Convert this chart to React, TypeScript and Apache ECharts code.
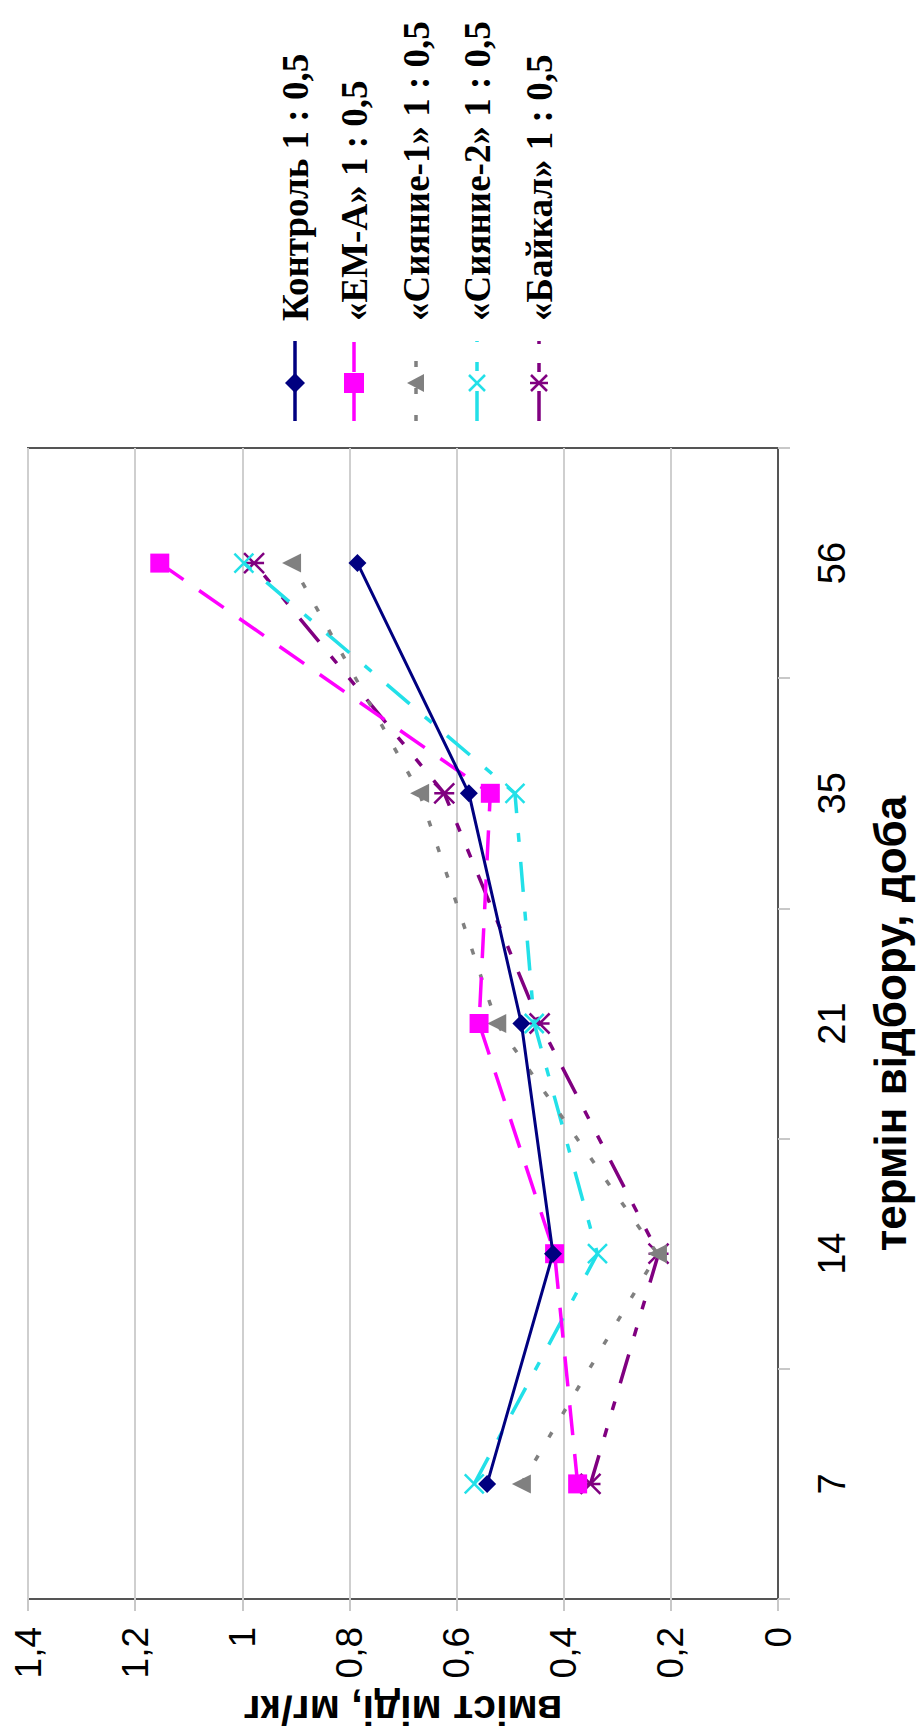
import React, { useEffect, useRef } from "react";
import * as echarts from "echarts";

// Categories (sampling day) and value-axis settings
const categories = ["7", "14", "21", "35", "56"];
const valueMin = 0;
const valueMax = 1.4;
const valueStep = 0.2;

// Series names (legend)
const seriesNames = [
  "Контроль 1 : 0,5",
  "«ЕМ-А» 1 : 0,5",
  "«Сияние-1» 1 : 0,5",
  "«Сияние-2» 1 : 0,5",
  "«Байкал» 1 : 0,5",
];

// Values, mg/kg, in category order 7, 14, 21, 35, 56
const kontrol = [0.543, 0.42, 0.479, 0.577, 0.785];
const emA = [0.374, 0.417, 0.558, 0.537, 1.154];
const siyanie1 = [0.479, 0.225, 0.525, 0.669, 0.908];
const siyanie2 = [0.567, 0.337, 0.455, 0.491, 0.997];
const baikal = [0.35, 0.223, 0.445, 0.623, 0.978];

const allData = [kontrol, emA, siyanie1, siyanie2, baikal];

const X_PATH = "path://M0,0L10,10M10,0L0,10";
const STAR_PATH = "path://M0,0L10,10M10,0L0,10M0,5L10,5";

const looks = [
  { color: "#000080", dash: null as any, symbol: "diamond", size: 18, rotate: 0, stroke: false },
  { color: "#ff00ff", dash: [30, 19], symbol: "rect", size: 19, rotate: 0, stroke: false },
  { color: "#808080", dash: [6, 21], symbol: "triangle", size: 19, rotate: 90, stroke: false },
  { color: "#22e0e8", dash: [30, 20, 9, 20], symbol: X_PATH, size: 19, rotate: 0, stroke: true },
  { color: "#800080", dash: [30, 19, 9, 19, 9, 19], symbol: STAR_PATH, size: 20, rotate: 0, stroke: true },
];

const legendX = [295, 354, 416, 477, 539];
const legendY = 383;

function legendMarker(i: number) {
  const c = looks[i].color;
  switch (i) {
    case 0:
      return [{ type: "polygon", shape: { points: [[0, -10], [10, 0], [0, 10], [-10, 0]] }, style: { fill: c } }];
    case 1:
      return [{ type: "rect", shape: { x: -10, y: -10, width: 20, height: 20 }, style: { fill: c } }];
    case 2:
      return [{ type: "polygon", shape: { points: [[0, -9], [9, 8], [-9, 8]] }, style: { fill: c } }];
    case 3:
      return [
        { type: "line", shape: { x1: -8, y1: -8, x2: 8, y2: 8 }, style: { stroke: c, lineWidth: 2.5 } },
        { type: "line", shape: { x1: 8, y1: -8, x2: -8, y2: 8 }, style: { stroke: c, lineWidth: 2.5 } },
      ];
    default:
      return [
        { type: "line", shape: { x1: -8, y1: -8, x2: 8, y2: 8 }, style: { stroke: c, lineWidth: 2.5 } },
        { type: "line", shape: { x1: 8, y1: -8, x2: -8, y2: 8 }, style: { stroke: c, lineWidth: 2.5 } },
        { type: "line", shape: { x1: 0, y1: -9, x2: 0, y2: 9 }, style: { stroke: c, lineWidth: 2.5 } },
      ];
  }
}

export default function App() {
  const ref = useRef<HTMLDivElement>(null);

  useEffect(() => {
    document.body.style.margin = "0";
    const chart = echarts.init(ref.current as HTMLDivElement, undefined, { renderer: "svg" });

    const series = allData.map((d, i) => {
      const L = looks[i];
      return {
        name: seriesNames[i],
        type: "line",
        data: d,
        symbol: L.symbol,
        symbolSize: L.size,
        symbolRotate: L.rotate,
        showSymbol: true,
        lineStyle: { color: L.color, width: i === 0 ? 3 : 3.5, type: L.dash ? L.dash : "solid", cap: "butt" },
        itemStyle: L.stroke
          ? { color: L.color, borderColor: L.color, borderWidth: 2.5 }
          : { color: L.color, borderWidth: 0 },
        z: 10 - i,
      };
    });

    const graphic = seriesNames.map((name, i) => ({
      type: "group",
      x: legendX[i],
      y: legendY,
      rotation: Math.PI / 2,
      children: [
        {
          type: "line",
          shape: { x1: -38, y1: 0, x2: 42, y2: 0 },
          style: { stroke: looks[i].color, lineWidth: 3.5, lineDash: looks[i].dash || undefined },
        },
        ...legendMarker(i),
        {
          type: "text",
          x: 62,
          y: 0,
          style: {
            text: name,
            fontFamily: "Liberation Serif",
            fontWeight: "bold",
            fontSize: 37,
            fill: "#000",
            align: "left",
            verticalAlign: "middle",
          },
        },
      ],
    }));

    chart.setOption({
      animation: false,
      backgroundColor: "#ffffff",
      grid: {
        left: 28,
        right: 132,
        top: 448,
        bottom: 126,
        show: true,
        borderColor: "#555555",
        borderWidth: 2,
        backgroundColor: "transparent",
      },
      xAxis: {
        type: "value",
        min: valueMin,
        max: valueMax,
        interval: valueStep,
        inverse: true,
        position: "bottom",
        name: "вміст міді, мг/кг",
        nameLocation: "middle",
        nameRotate: 180,
        nameGap: 90,
        nameTextStyle: { fontFamily: "Liberation Sans", fontWeight: "bold", fontSize: 41, color: "#000" },
        axisLine: { show: false },
        axisTick: { show: true, length: 12, lineStyle: { color: "#c8c8c8", width: 2 } },
        splitLine: { show: true, lineStyle: { color: "#cfcfcf", width: 2 } },
        axisLabel: {
          rotate: 90,
          margin: 28,
          fontFamily: "Liberation Sans",
          fontSize: 37,
          color: "#000",
          formatter: (v: number) => String(Math.round(v * 10) / 10).replace(".", ","),
        },
      },
      yAxis: {
        type: "category",
        data: categories,
        position: "right",
        boundaryGap: true,
        name: "термін відбору, доба",
        nameLocation: "middle",
        nameGap: 90,
        nameTextStyle: { fontFamily: "Liberation Sans", fontWeight: "bold", fontSize: 44, color: "#000" },
        axisLine: { show: true, lineStyle: { color: "#555555", width: 2 } },
        axisTick: { show: true, length: 12, lineStyle: { color: "#c8c8c8", width: 2 } },
        splitLine: { show: false },
        axisLabel: {
          rotate: 90,
          margin: 35,
          fontFamily: "Liberation Sans",
          fontSize: 38,
          color: "#000",
        },
      },
      series,
      graphic,
    });

    return () => {
      chart.dispose();
    };
  }, []);

  return (
    <div
      ref={ref}
      style={{ position: "absolute", left: 0, top: 0, width: 920, height: 1735, background: "#fff" }}
    />
  );
}
